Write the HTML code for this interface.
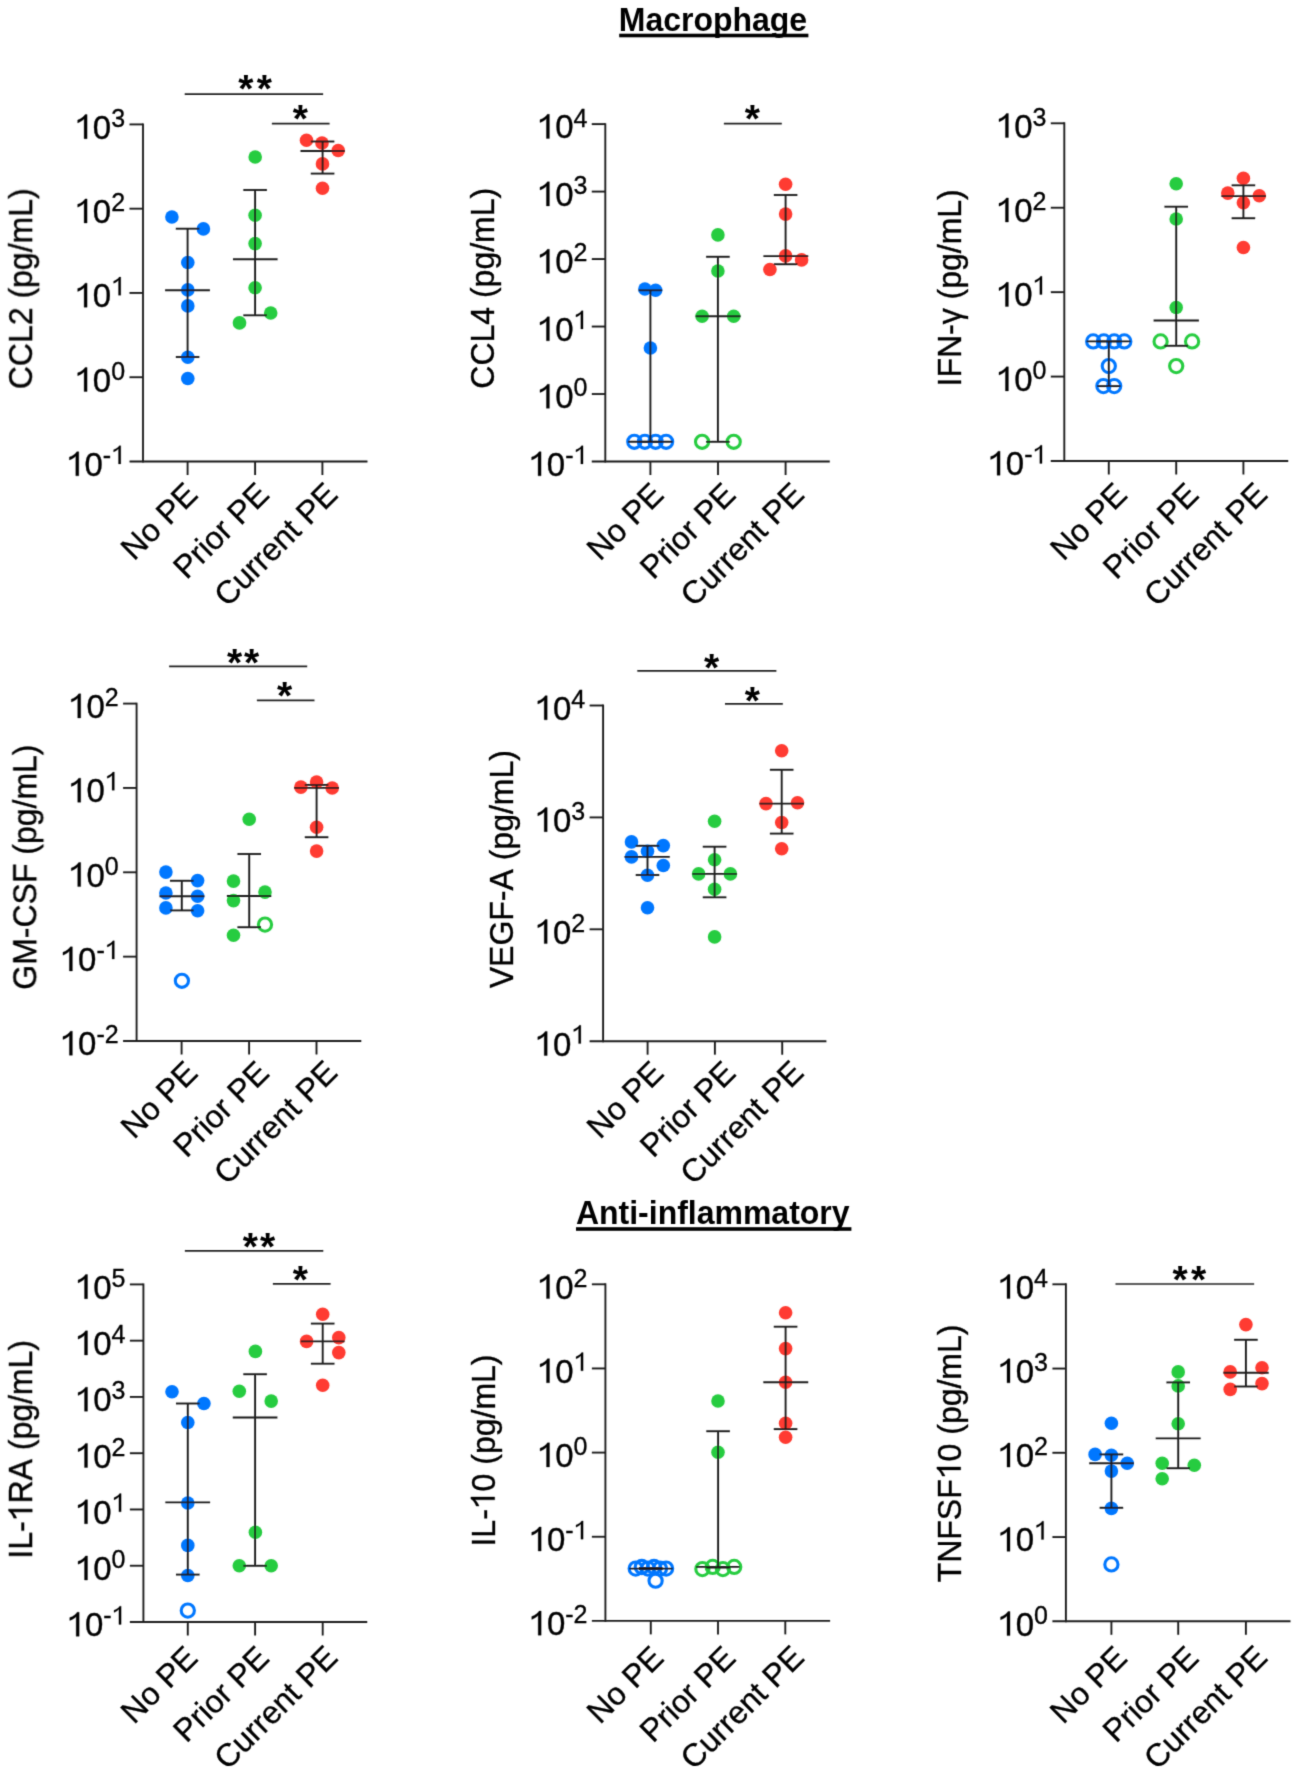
<!DOCTYPE html>
<html><head><meta charset="utf-8"><title>Figure</title>
<style>
html,body{margin:0;padding:0;background:#fff;}
svg{display:block;will-change:transform;}
svg text{font-family:"Liberation Sans",sans-serif;font-kerning:none;}
</style></head><body>
<svg width="1299" height="1772" viewBox="0 0 1299 1772">
<defs><filter id="soft" x="0" y="0" width="1299" height="1772" filterUnits="userSpaceOnUse"><feConvolveMatrix order="3" kernelMatrix="0.0192 0.1001 0.0192 0.1001 0.5228 0.1001 0.0192 0.1001 0.0192" edgeMode="duplicate"/></filter></defs>
<rect width="1299" height="1772" fill="#fff"/>
<g filter="url(#soft)">
<line x1="143" y1="123.45" x2="143" y2="462.45" stroke="#1c1c1c" stroke-width="1.9"/>
<line x1="129.5" y1="461.5" x2="367.5" y2="461.5" stroke="#1c1c1c" stroke-width="1.9"/>
<line x1="129.5" y1="124.4" x2="143" y2="124.4" stroke="#1c1c1c" stroke-width="1.9"/>
<g transform="translate(111.2,138.7) scale(1,1.02)" fill="#000" stroke="#000" stroke-width="0.35"><path stroke-width="0.01" d="M0.382,0 L0.382,0.716 L0.322,0.716 C0.29,0.65 0.2,0.59 0.097,0.555 L0.097,0.47 C0.18,0.5 0.25,0.545 0.292,0.59 L0.292,0 Z" transform="translate(-36.71,0) scale(33,-33)"/><text x="-18.35" y="0" font-size="33" font-weight="normal">0</text></g>
<g transform="translate(111.2,126.8) scale(1,1.02)" fill="#000" stroke="#000" stroke-width="0.35"><text x="0" y="0" font-size="25" font-weight="normal">3</text></g>
<line x1="129.5" y1="208.68" x2="143" y2="208.68" stroke="#1c1c1c" stroke-width="1.9"/>
<g transform="translate(111.2,222.98) scale(1,1.02)" fill="#000" stroke="#000" stroke-width="0.35"><path stroke-width="0.01" d="M0.382,0 L0.382,0.716 L0.322,0.716 C0.29,0.65 0.2,0.59 0.097,0.555 L0.097,0.47 C0.18,0.5 0.25,0.545 0.292,0.59 L0.292,0 Z" transform="translate(-36.71,0) scale(33,-33)"/><text x="-18.35" y="0" font-size="33" font-weight="normal">0</text></g>
<g transform="translate(111.2,211.08) scale(1,1.02)" fill="#000" stroke="#000" stroke-width="0.35"><text x="0" y="0" font-size="25" font-weight="normal">2</text></g>
<line x1="129.5" y1="292.95" x2="143" y2="292.95" stroke="#1c1c1c" stroke-width="1.9"/>
<g transform="translate(111.2,307.25) scale(1,1.02)" fill="#000" stroke="#000" stroke-width="0.35"><path stroke-width="0.01" d="M0.382,0 L0.382,0.716 L0.322,0.716 C0.29,0.65 0.2,0.59 0.097,0.555 L0.097,0.47 C0.18,0.5 0.25,0.545 0.292,0.59 L0.292,0 Z" transform="translate(-36.71,0) scale(33,-33)"/><text x="-18.35" y="0" font-size="33" font-weight="normal">0</text></g>
<g transform="translate(111.2,295.35) scale(1,1.02)" fill="#000" stroke="#000" stroke-width="0.35"><path stroke-width="0.01" d="M0.382,0 L0.382,0.716 L0.322,0.716 C0.29,0.65 0.2,0.59 0.097,0.555 L0.097,0.47 C0.18,0.5 0.25,0.545 0.292,0.59 L0.292,0 Z" transform="translate(0,0) scale(25,-25)"/></g>
<line x1="129.5" y1="377.23" x2="143" y2="377.23" stroke="#1c1c1c" stroke-width="1.9"/>
<g transform="translate(111.2,391.53) scale(1,1.02)" fill="#000" stroke="#000" stroke-width="0.35"><path stroke-width="0.01" d="M0.382,0 L0.382,0.716 L0.322,0.716 C0.29,0.65 0.2,0.59 0.097,0.555 L0.097,0.47 C0.18,0.5 0.25,0.545 0.292,0.59 L0.292,0 Z" transform="translate(-36.71,0) scale(33,-33)"/><text x="-18.35" y="0" font-size="33" font-weight="normal">0</text></g>
<g transform="translate(111.2,379.62) scale(1,1.02)" fill="#000" stroke="#000" stroke-width="0.35"><text x="0" y="0" font-size="25" font-weight="normal">0</text></g>
<g transform="translate(102.87,475.8) scale(1,1.02)" fill="#000" stroke="#000" stroke-width="0.35"><path stroke-width="0.01" d="M0.382,0 L0.382,0.716 L0.322,0.716 C0.29,0.65 0.2,0.59 0.097,0.555 L0.097,0.47 C0.18,0.5 0.25,0.545 0.292,0.59 L0.292,0 Z" transform="translate(-36.71,0) scale(33,-33)"/><text x="-18.35" y="0" font-size="33" font-weight="normal">0</text></g>
<g transform="translate(102.87,463.9) scale(1,1.02)" fill="#000" stroke="#000" stroke-width="0.35"><text x="0" y="0" font-size="25" font-weight="normal">-</text><path stroke-width="0.01" d="M0.382,0 L0.382,0.716 L0.322,0.716 C0.29,0.65 0.2,0.59 0.097,0.555 L0.097,0.47 C0.18,0.5 0.25,0.545 0.292,0.59 L0.292,0 Z" transform="translate(8.33,0) scale(25,-25)"/></g>
<line x1="187.6" y1="461.5" x2="187.6" y2="475" stroke="#1c1c1c" stroke-width="1.9"/>
<line x1="255.1" y1="461.5" x2="255.1" y2="475" stroke="#1c1c1c" stroke-width="1.9"/>
<line x1="322.4" y1="461.5" x2="322.4" y2="475" stroke="#1c1c1c" stroke-width="1.9"/>
<g transform="translate(32.3,288.7) rotate(-90) scale(1,1.04)" fill="#000" stroke="#000" stroke-width="0.35"><text x="-100.48" y="0" font-size="32" font-weight="normal">CCL2 (pg/mL)</text></g>
<g transform="translate(199.45,496.05) rotate(-45)" fill="#000" stroke="#000" stroke-width="0.35"><text x="-92.48" y="0" font-size="32" font-weight="normal">No PE</text></g>
<g transform="translate(270.75,496.05) rotate(-45)" fill="#000" stroke="#000" stroke-width="0.35"><text x="-119.14" y="0" font-size="32" font-weight="normal">Prior PE</text></g>
<g transform="translate(339.35,496.05) rotate(-45)" fill="#000" stroke="#000" stroke-width="0.35"><text x="-158.28" y="0" font-size="32" font-weight="normal">Current PE</text></g>
<circle cx="171.9" cy="217" r="6.8" fill="#0077FF"/>
<circle cx="203.4" cy="228.9" r="6.8" fill="#0077FF"/>
<circle cx="187.8" cy="262.5" r="6.8" fill="#0077FF"/>
<circle cx="187.8" cy="289.9" r="6.8" fill="#0077FF"/>
<circle cx="187.8" cy="305.9" r="6.8" fill="#0077FF"/>
<circle cx="187.8" cy="357.2" r="6.8" fill="#0077FF"/>
<circle cx="187.8" cy="378.5" r="6.8" fill="#0077FF"/>
<circle cx="255.2" cy="157" r="6.8" fill="#28CC41"/>
<circle cx="255.1" cy="215.2" r="6.8" fill="#28CC41"/>
<circle cx="255.1" cy="243.6" r="6.8" fill="#28CC41"/>
<circle cx="255.1" cy="287.8" r="6.8" fill="#28CC41"/>
<circle cx="270.7" cy="313" r="6.8" fill="#28CC41"/>
<circle cx="239.5" cy="322.9" r="6.8" fill="#28CC41"/>
<circle cx="306.5" cy="140.2" r="6.8" fill="#FF3B30"/>
<circle cx="322" cy="143" r="6.8" fill="#FF3B30"/>
<circle cx="338.2" cy="150.5" r="6.8" fill="#FF3B30"/>
<circle cx="322.5" cy="163.9" r="6.8" fill="#FF3B30"/>
<circle cx="322.5" cy="188.3" r="6.8" fill="#FF3B30"/>
<line x1="187.6" y1="228.7" x2="187.6" y2="357" stroke="#1c1c1c" stroke-width="1.9"/>
<line x1="175.8" y1="228.7" x2="199.4" y2="228.7" stroke="#1c1c1c" stroke-width="1.9"/>
<line x1="175.8" y1="357" x2="199.4" y2="357" stroke="#1c1c1c" stroke-width="1.9"/>
<line x1="255.1" y1="190" x2="255.1" y2="315.3" stroke="#1c1c1c" stroke-width="1.9"/>
<line x1="243.3" y1="190" x2="266.9" y2="190" stroke="#1c1c1c" stroke-width="1.9"/>
<line x1="243.3" y1="315.3" x2="266.9" y2="315.3" stroke="#1c1c1c" stroke-width="1.9"/>
<line x1="322.6" y1="141.5" x2="322.6" y2="173.6" stroke="#1c1c1c" stroke-width="1.9"/>
<line x1="310.8" y1="141.5" x2="334.4" y2="141.5" stroke="#1c1c1c" stroke-width="1.9"/>
<line x1="310.8" y1="173.6" x2="334.4" y2="173.6" stroke="#1c1c1c" stroke-width="1.9"/>
<line x1="165.1" y1="290.3" x2="209.9" y2="290.3" stroke="#1c1c1c" stroke-width="1.9"/>
<line x1="233" y1="259.3" x2="277.6" y2="259.3" stroke="#1c1c1c" stroke-width="1.9"/>
<line x1="300.5" y1="151" x2="344.7" y2="151" stroke="#1c1c1c" stroke-width="1.9"/>
<line x1="184.7" y1="94.2" x2="323.1" y2="94.2" stroke="#222" stroke-width="1.7"/>
<text x="238.36" y="101.6" font-size="39" font-weight="bold">*</text>
<text x="256.66" y="101.6" font-size="39" font-weight="bold">*</text>
<line x1="271.9" y1="123.6" x2="329.6" y2="123.6" stroke="#222" stroke-width="1.7"/>
<text x="292.76" y="132.4" font-size="39" font-weight="bold">*</text>
<line x1="605.3" y1="123.15" x2="605.3" y2="462.45" stroke="#1c1c1c" stroke-width="1.9"/>
<line x1="591.8" y1="461.5" x2="829.8" y2="461.5" stroke="#1c1c1c" stroke-width="1.9"/>
<line x1="591.8" y1="124.1" x2="605.3" y2="124.1" stroke="#1c1c1c" stroke-width="1.9"/>
<g transform="translate(573.5,138.4) scale(1,1.02)" fill="#000" stroke="#000" stroke-width="0.35"><path stroke-width="0.01" d="M0.382,0 L0.382,0.716 L0.322,0.716 C0.29,0.65 0.2,0.59 0.097,0.555 L0.097,0.47 C0.18,0.5 0.25,0.545 0.292,0.59 L0.292,0 Z" transform="translate(-36.71,0) scale(33,-33)"/><text x="-18.35" y="0" font-size="33" font-weight="normal">0</text></g>
<g transform="translate(573.5,126.5) scale(1,1.02)" fill="#000" stroke="#000" stroke-width="0.35"><text x="0" y="0" font-size="25" font-weight="normal">4</text></g>
<line x1="591.8" y1="191.58" x2="605.3" y2="191.58" stroke="#1c1c1c" stroke-width="1.9"/>
<g transform="translate(573.5,205.88) scale(1,1.02)" fill="#000" stroke="#000" stroke-width="0.35"><path stroke-width="0.01" d="M0.382,0 L0.382,0.716 L0.322,0.716 C0.29,0.65 0.2,0.59 0.097,0.555 L0.097,0.47 C0.18,0.5 0.25,0.545 0.292,0.59 L0.292,0 Z" transform="translate(-36.71,0) scale(33,-33)"/><text x="-18.35" y="0" font-size="33" font-weight="normal">0</text></g>
<g transform="translate(573.5,193.98) scale(1,1.02)" fill="#000" stroke="#000" stroke-width="0.35"><text x="0" y="0" font-size="25" font-weight="normal">3</text></g>
<line x1="591.8" y1="259.06" x2="605.3" y2="259.06" stroke="#1c1c1c" stroke-width="1.9"/>
<g transform="translate(573.5,273.36) scale(1,1.02)" fill="#000" stroke="#000" stroke-width="0.35"><path stroke-width="0.01" d="M0.382,0 L0.382,0.716 L0.322,0.716 C0.29,0.65 0.2,0.59 0.097,0.555 L0.097,0.47 C0.18,0.5 0.25,0.545 0.292,0.59 L0.292,0 Z" transform="translate(-36.71,0) scale(33,-33)"/><text x="-18.35" y="0" font-size="33" font-weight="normal">0</text></g>
<g transform="translate(573.5,261.46) scale(1,1.02)" fill="#000" stroke="#000" stroke-width="0.35"><text x="0" y="0" font-size="25" font-weight="normal">2</text></g>
<line x1="591.8" y1="326.54" x2="605.3" y2="326.54" stroke="#1c1c1c" stroke-width="1.9"/>
<g transform="translate(573.5,340.84) scale(1,1.02)" fill="#000" stroke="#000" stroke-width="0.35"><path stroke-width="0.01" d="M0.382,0 L0.382,0.716 L0.322,0.716 C0.29,0.65 0.2,0.59 0.097,0.555 L0.097,0.47 C0.18,0.5 0.25,0.545 0.292,0.59 L0.292,0 Z" transform="translate(-36.71,0) scale(33,-33)"/><text x="-18.35" y="0" font-size="33" font-weight="normal">0</text></g>
<g transform="translate(573.5,328.94) scale(1,1.02)" fill="#000" stroke="#000" stroke-width="0.35"><path stroke-width="0.01" d="M0.382,0 L0.382,0.716 L0.322,0.716 C0.29,0.65 0.2,0.59 0.097,0.555 L0.097,0.47 C0.18,0.5 0.25,0.545 0.292,0.59 L0.292,0 Z" transform="translate(0,0) scale(25,-25)"/></g>
<line x1="591.8" y1="394.02" x2="605.3" y2="394.02" stroke="#1c1c1c" stroke-width="1.9"/>
<g transform="translate(573.5,408.32) scale(1,1.02)" fill="#000" stroke="#000" stroke-width="0.35"><path stroke-width="0.01" d="M0.382,0 L0.382,0.716 L0.322,0.716 C0.29,0.65 0.2,0.59 0.097,0.555 L0.097,0.47 C0.18,0.5 0.25,0.545 0.292,0.59 L0.292,0 Z" transform="translate(-36.71,0) scale(33,-33)"/><text x="-18.35" y="0" font-size="33" font-weight="normal">0</text></g>
<g transform="translate(573.5,396.42) scale(1,1.02)" fill="#000" stroke="#000" stroke-width="0.35"><text x="0" y="0" font-size="25" font-weight="normal">0</text></g>
<g transform="translate(565.17,475.8) scale(1,1.02)" fill="#000" stroke="#000" stroke-width="0.35"><path stroke-width="0.01" d="M0.382,0 L0.382,0.716 L0.322,0.716 C0.29,0.65 0.2,0.59 0.097,0.555 L0.097,0.47 C0.18,0.5 0.25,0.545 0.292,0.59 L0.292,0 Z" transform="translate(-36.71,0) scale(33,-33)"/><text x="-18.35" y="0" font-size="33" font-weight="normal">0</text></g>
<g transform="translate(565.17,463.9) scale(1,1.02)" fill="#000" stroke="#000" stroke-width="0.35"><text x="0" y="0" font-size="25" font-weight="normal">-</text><path stroke-width="0.01" d="M0.382,0 L0.382,0.716 L0.322,0.716 C0.29,0.65 0.2,0.59 0.097,0.555 L0.097,0.47 C0.18,0.5 0.25,0.545 0.292,0.59 L0.292,0 Z" transform="translate(8.33,0) scale(25,-25)"/></g>
<line x1="650.4" y1="461.5" x2="650.4" y2="475" stroke="#1c1c1c" stroke-width="1.9"/>
<line x1="718" y1="461.5" x2="718" y2="475" stroke="#1c1c1c" stroke-width="1.9"/>
<line x1="785.6" y1="461.5" x2="785.6" y2="475" stroke="#1c1c1c" stroke-width="1.9"/>
<g transform="translate(494.3,288.2) rotate(-90) scale(1,1.04)" fill="#000" stroke="#000" stroke-width="0.35"><text x="-100.48" y="0" font-size="32" font-weight="normal">CCL4 (pg/mL)</text></g>
<g transform="translate(665.45,496.35) rotate(-45)" fill="#000" stroke="#000" stroke-width="0.35"><text x="-92.48" y="0" font-size="32" font-weight="normal">No PE</text></g>
<g transform="translate(737.45,496.35) rotate(-45)" fill="#000" stroke="#000" stroke-width="0.35"><text x="-119.14" y="0" font-size="32" font-weight="normal">Prior PE</text></g>
<g transform="translate(805.75,496.15) rotate(-45)" fill="#000" stroke="#000" stroke-width="0.35"><text x="-158.28" y="0" font-size="32" font-weight="normal">Current PE</text></g>
<circle cx="644.9" cy="289" r="6.8" fill="#0077FF"/>
<circle cx="655.6" cy="290.3" r="6.8" fill="#0077FF"/>
<circle cx="650.4" cy="348" r="6.8" fill="#0077FF"/>
<circle cx="634.3" cy="441.8" r="6.6" fill="none" stroke="#0077FF" stroke-width="3.1"/>
<circle cx="644.9" cy="441.8" r="6.6" fill="none" stroke="#0077FF" stroke-width="3.1"/>
<circle cx="655.6" cy="441.8" r="6.6" fill="none" stroke="#0077FF" stroke-width="3.1"/>
<circle cx="666.1" cy="441.8" r="6.6" fill="none" stroke="#0077FF" stroke-width="3.1"/>
<circle cx="717.9" cy="234.9" r="6.8" fill="#28CC41"/>
<circle cx="717.9" cy="271" r="6.8" fill="#28CC41"/>
<circle cx="702.1" cy="316.2" r="6.8" fill="#28CC41"/>
<circle cx="733.7" cy="316.2" r="6.8" fill="#28CC41"/>
<circle cx="702.1" cy="441.8" r="6.6" fill="none" stroke="#28CC41" stroke-width="3.1"/>
<circle cx="733.7" cy="441.8" r="6.6" fill="none" stroke="#28CC41" stroke-width="3.1"/>
<circle cx="785.6" cy="184.3" r="6.8" fill="#FF3B30"/>
<circle cx="785.6" cy="214.1" r="6.8" fill="#FF3B30"/>
<circle cx="785.6" cy="255.9" r="6.8" fill="#FF3B30"/>
<circle cx="801.6" cy="259.9" r="6.8" fill="#FF3B30"/>
<circle cx="769.9" cy="269.5" r="6.8" fill="#FF3B30"/>
<line x1="650.4" y1="290.3" x2="650.4" y2="441.8" stroke="#1c1c1c" stroke-width="1.9"/>
<line x1="638.6" y1="290.3" x2="662.2" y2="290.3" stroke="#1c1c1c" stroke-width="1.9"/>
<line x1="638.6" y1="441.8" x2="662.2" y2="441.8" stroke="#1c1c1c" stroke-width="1.9"/>
<line x1="717.9" y1="256.8" x2="717.9" y2="441.8" stroke="#1c1c1c" stroke-width="1.9"/>
<line x1="706.1" y1="256.8" x2="729.7" y2="256.8" stroke="#1c1c1c" stroke-width="1.9"/>
<line x1="706.1" y1="441.8" x2="729.7" y2="441.8" stroke="#1c1c1c" stroke-width="1.9"/>
<line x1="785.6" y1="195" x2="785.6" y2="264.2" stroke="#1c1c1c" stroke-width="1.9"/>
<line x1="773.8" y1="195" x2="797.4" y2="195" stroke="#1c1c1c" stroke-width="1.9"/>
<line x1="773.8" y1="264.2" x2="797.4" y2="264.2" stroke="#1c1c1c" stroke-width="1.9"/>
<line x1="627.9" y1="441.8" x2="672.6" y2="441.8" stroke="#1c1c1c" stroke-width="1.9"/>
<line x1="695.7" y1="316.2" x2="740.6" y2="316.2" stroke="#1c1c1c" stroke-width="1.9"/>
<line x1="763.4" y1="256.1" x2="808.3" y2="256.1" stroke="#1c1c1c" stroke-width="1.9"/>
<line x1="723.9" y1="123.7" x2="781.8" y2="123.7" stroke="#222" stroke-width="1.7"/>
<text x="744.86" y="132.1" font-size="39" font-weight="bold">*</text>
<line x1="1064.3" y1="122.35" x2="1064.3" y2="461.95" stroke="#1c1c1c" stroke-width="1.9"/>
<line x1="1050.8" y1="461" x2="1288.2" y2="461" stroke="#1c1c1c" stroke-width="1.9"/>
<line x1="1050.8" y1="123.3" x2="1064.3" y2="123.3" stroke="#1c1c1c" stroke-width="1.9"/>
<g transform="translate(1032.5,137.6) scale(1,1.02)" fill="#000" stroke="#000" stroke-width="0.35"><path stroke-width="0.01" d="M0.382,0 L0.382,0.716 L0.322,0.716 C0.29,0.65 0.2,0.59 0.097,0.555 L0.097,0.47 C0.18,0.5 0.25,0.545 0.292,0.59 L0.292,0 Z" transform="translate(-36.71,0) scale(33,-33)"/><text x="-18.35" y="0" font-size="33" font-weight="normal">0</text></g>
<g transform="translate(1032.5,125.7) scale(1,1.02)" fill="#000" stroke="#000" stroke-width="0.35"><text x="0" y="0" font-size="25" font-weight="normal">3</text></g>
<line x1="1050.8" y1="207.72" x2="1064.3" y2="207.72" stroke="#1c1c1c" stroke-width="1.9"/>
<g transform="translate(1032.5,222.03) scale(1,1.02)" fill="#000" stroke="#000" stroke-width="0.35"><path stroke-width="0.01" d="M0.382,0 L0.382,0.716 L0.322,0.716 C0.29,0.65 0.2,0.59 0.097,0.555 L0.097,0.47 C0.18,0.5 0.25,0.545 0.292,0.59 L0.292,0 Z" transform="translate(-36.71,0) scale(33,-33)"/><text x="-18.35" y="0" font-size="33" font-weight="normal">0</text></g>
<g transform="translate(1032.5,210.12) scale(1,1.02)" fill="#000" stroke="#000" stroke-width="0.35"><text x="0" y="0" font-size="25" font-weight="normal">2</text></g>
<line x1="1050.8" y1="292.15" x2="1064.3" y2="292.15" stroke="#1c1c1c" stroke-width="1.9"/>
<g transform="translate(1032.5,306.45) scale(1,1.02)" fill="#000" stroke="#000" stroke-width="0.35"><path stroke-width="0.01" d="M0.382,0 L0.382,0.716 L0.322,0.716 C0.29,0.65 0.2,0.59 0.097,0.555 L0.097,0.47 C0.18,0.5 0.25,0.545 0.292,0.59 L0.292,0 Z" transform="translate(-36.71,0) scale(33,-33)"/><text x="-18.35" y="0" font-size="33" font-weight="normal">0</text></g>
<g transform="translate(1032.5,294.55) scale(1,1.02)" fill="#000" stroke="#000" stroke-width="0.35"><path stroke-width="0.01" d="M0.382,0 L0.382,0.716 L0.322,0.716 C0.29,0.65 0.2,0.59 0.097,0.555 L0.097,0.47 C0.18,0.5 0.25,0.545 0.292,0.59 L0.292,0 Z" transform="translate(0,0) scale(25,-25)"/></g>
<line x1="1050.8" y1="376.57" x2="1064.3" y2="376.57" stroke="#1c1c1c" stroke-width="1.9"/>
<g transform="translate(1032.5,390.88) scale(1,1.02)" fill="#000" stroke="#000" stroke-width="0.35"><path stroke-width="0.01" d="M0.382,0 L0.382,0.716 L0.322,0.716 C0.29,0.65 0.2,0.59 0.097,0.555 L0.097,0.47 C0.18,0.5 0.25,0.545 0.292,0.59 L0.292,0 Z" transform="translate(-36.71,0) scale(33,-33)"/><text x="-18.35" y="0" font-size="33" font-weight="normal">0</text></g>
<g transform="translate(1032.5,378.97) scale(1,1.02)" fill="#000" stroke="#000" stroke-width="0.35"><text x="0" y="0" font-size="25" font-weight="normal">0</text></g>
<g transform="translate(1024.17,475.3) scale(1,1.02)" fill="#000" stroke="#000" stroke-width="0.35"><path stroke-width="0.01" d="M0.382,0 L0.382,0.716 L0.322,0.716 C0.29,0.65 0.2,0.59 0.097,0.555 L0.097,0.47 C0.18,0.5 0.25,0.545 0.292,0.59 L0.292,0 Z" transform="translate(-36.71,0) scale(33,-33)"/><text x="-18.35" y="0" font-size="33" font-weight="normal">0</text></g>
<g transform="translate(1024.17,463.4) scale(1,1.02)" fill="#000" stroke="#000" stroke-width="0.35"><text x="0" y="0" font-size="25" font-weight="normal">-</text><path stroke-width="0.01" d="M0.382,0 L0.382,0.716 L0.322,0.716 C0.29,0.65 0.2,0.59 0.097,0.555 L0.097,0.47 C0.18,0.5 0.25,0.545 0.292,0.59 L0.292,0 Z" transform="translate(8.33,0) scale(25,-25)"/></g>
<line x1="1108.8" y1="461" x2="1108.8" y2="474.5" stroke="#1c1c1c" stroke-width="1.9"/>
<line x1="1176.2" y1="461" x2="1176.2" y2="474.5" stroke="#1c1c1c" stroke-width="1.9"/>
<line x1="1243.4" y1="461" x2="1243.4" y2="474.5" stroke="#1c1c1c" stroke-width="1.9"/>
<g transform="translate(960.6,287.8) rotate(-90) scale(1,1.04)" fill="#000" stroke="#000" stroke-width="0.35"><text x="-98.67" y="0" font-size="32" font-weight="normal">IFN-γ (pg/mL)</text></g>
<g transform="translate(1128.85,496.35) rotate(-45)" fill="#000" stroke="#000" stroke-width="0.35"><text x="-92.48" y="0" font-size="32" font-weight="normal">No PE</text></g>
<g transform="translate(1200.45,496.35) rotate(-45)" fill="#000" stroke="#000" stroke-width="0.35"><text x="-119.14" y="0" font-size="32" font-weight="normal">Prior PE</text></g>
<g transform="translate(1269.05,496.15) rotate(-45)" fill="#000" stroke="#000" stroke-width="0.35"><text x="-158.28" y="0" font-size="32" font-weight="normal">Current PE</text></g>
<circle cx="1093.2" cy="341.4" r="6.6" fill="none" stroke="#0077FF" stroke-width="3.1"/>
<circle cx="1103.8" cy="341.4" r="6.6" fill="none" stroke="#0077FF" stroke-width="3.1"/>
<circle cx="1114.2" cy="341.4" r="6.6" fill="none" stroke="#0077FF" stroke-width="3.1"/>
<circle cx="1124.3" cy="341.4" r="6.6" fill="none" stroke="#0077FF" stroke-width="3.1"/>
<circle cx="1108.8" cy="366.1" r="6.6" fill="none" stroke="#0077FF" stroke-width="3.1"/>
<circle cx="1103.4" cy="386.1" r="6.6" fill="none" stroke="#0077FF" stroke-width="3.1"/>
<circle cx="1114.2" cy="386.1" r="6.6" fill="none" stroke="#0077FF" stroke-width="3.1"/>
<circle cx="1176.2" cy="183.7" r="6.8" fill="#28CC41"/>
<circle cx="1176.2" cy="219" r="6.8" fill="#28CC41"/>
<circle cx="1176.2" cy="307.5" r="6.8" fill="#28CC41"/>
<circle cx="1160.6" cy="341.4" r="6.6" fill="none" stroke="#28CC41" stroke-width="3.1"/>
<circle cx="1192.1" cy="341.4" r="6.6" fill="none" stroke="#28CC41" stroke-width="3.1"/>
<circle cx="1176.2" cy="366.1" r="6.6" fill="none" stroke="#28CC41" stroke-width="3.1"/>
<circle cx="1243.4" cy="178.2" r="6.8" fill="#FF3B30"/>
<circle cx="1227.8" cy="193.1" r="6.8" fill="#FF3B30"/>
<circle cx="1259.3" cy="195.7" r="6.8" fill="#FF3B30"/>
<circle cx="1243.4" cy="202.7" r="6.8" fill="#FF3B30"/>
<circle cx="1243.4" cy="247.5" r="6.8" fill="#FF3B30"/>
<line x1="1108.8" y1="341.4" x2="1108.8" y2="386.1" stroke="#1c1c1c" stroke-width="1.9"/>
<line x1="1097" y1="341.4" x2="1120.6" y2="341.4" stroke="#1c1c1c" stroke-width="1.9"/>
<line x1="1097" y1="386.1" x2="1120.6" y2="386.1" stroke="#1c1c1c" stroke-width="1.9"/>
<line x1="1176.2" y1="206.7" x2="1176.2" y2="345.8" stroke="#1c1c1c" stroke-width="1.9"/>
<line x1="1164.4" y1="206.7" x2="1188" y2="206.7" stroke="#1c1c1c" stroke-width="1.9"/>
<line x1="1164.4" y1="345.8" x2="1188" y2="345.8" stroke="#1c1c1c" stroke-width="1.9"/>
<line x1="1243.4" y1="185.3" x2="1243.4" y2="218.2" stroke="#1c1c1c" stroke-width="1.9"/>
<line x1="1231.6" y1="185.3" x2="1255.2" y2="185.3" stroke="#1c1c1c" stroke-width="1.9"/>
<line x1="1231.6" y1="218.2" x2="1255.2" y2="218.2" stroke="#1c1c1c" stroke-width="1.9"/>
<line x1="1086.5" y1="341.4" x2="1130.7" y2="341.4" stroke="#1c1c1c" stroke-width="1.9"/>
<line x1="1153.6" y1="320.5" x2="1198.9" y2="320.5" stroke="#1c1c1c" stroke-width="1.9"/>
<line x1="1221.4" y1="196.1" x2="1265.9" y2="196.1" stroke="#1c1c1c" stroke-width="1.9"/>
<line x1="136.6" y1="702.65" x2="136.6" y2="1041.95" stroke="#1c1c1c" stroke-width="1.9"/>
<line x1="123.1" y1="1041" x2="361.3" y2="1041" stroke="#1c1c1c" stroke-width="1.9"/>
<line x1="123.1" y1="703.6" x2="136.6" y2="703.6" stroke="#1c1c1c" stroke-width="1.9"/>
<g transform="translate(104.8,717.9) scale(1,1.02)" fill="#000" stroke="#000" stroke-width="0.35"><path stroke-width="0.01" d="M0.382,0 L0.382,0.716 L0.322,0.716 C0.29,0.65 0.2,0.59 0.097,0.555 L0.097,0.47 C0.18,0.5 0.25,0.545 0.292,0.59 L0.292,0 Z" transform="translate(-36.71,0) scale(33,-33)"/><text x="-18.35" y="0" font-size="33" font-weight="normal">0</text></g>
<g transform="translate(104.8,706) scale(1,1.02)" fill="#000" stroke="#000" stroke-width="0.35"><text x="0" y="0" font-size="25" font-weight="normal">2</text></g>
<line x1="123.1" y1="787.95" x2="136.6" y2="787.95" stroke="#1c1c1c" stroke-width="1.9"/>
<g transform="translate(104.8,802.25) scale(1,1.02)" fill="#000" stroke="#000" stroke-width="0.35"><path stroke-width="0.01" d="M0.382,0 L0.382,0.716 L0.322,0.716 C0.29,0.65 0.2,0.59 0.097,0.555 L0.097,0.47 C0.18,0.5 0.25,0.545 0.292,0.59 L0.292,0 Z" transform="translate(-36.71,0) scale(33,-33)"/><text x="-18.35" y="0" font-size="33" font-weight="normal">0</text></g>
<g transform="translate(104.8,790.35) scale(1,1.02)" fill="#000" stroke="#000" stroke-width="0.35"><path stroke-width="0.01" d="M0.382,0 L0.382,0.716 L0.322,0.716 C0.29,0.65 0.2,0.59 0.097,0.555 L0.097,0.47 C0.18,0.5 0.25,0.545 0.292,0.59 L0.292,0 Z" transform="translate(0,0) scale(25,-25)"/></g>
<line x1="123.1" y1="872.3" x2="136.6" y2="872.3" stroke="#1c1c1c" stroke-width="1.9"/>
<g transform="translate(104.8,886.6) scale(1,1.02)" fill="#000" stroke="#000" stroke-width="0.35"><path stroke-width="0.01" d="M0.382,0 L0.382,0.716 L0.322,0.716 C0.29,0.65 0.2,0.59 0.097,0.555 L0.097,0.47 C0.18,0.5 0.25,0.545 0.292,0.59 L0.292,0 Z" transform="translate(-36.71,0) scale(33,-33)"/><text x="-18.35" y="0" font-size="33" font-weight="normal">0</text></g>
<g transform="translate(104.8,874.7) scale(1,1.02)" fill="#000" stroke="#000" stroke-width="0.35"><text x="0" y="0" font-size="25" font-weight="normal">0</text></g>
<line x1="123.1" y1="956.65" x2="136.6" y2="956.65" stroke="#1c1c1c" stroke-width="1.9"/>
<g transform="translate(96.47,970.95) scale(1,1.02)" fill="#000" stroke="#000" stroke-width="0.35"><path stroke-width="0.01" d="M0.382,0 L0.382,0.716 L0.322,0.716 C0.29,0.65 0.2,0.59 0.097,0.555 L0.097,0.47 C0.18,0.5 0.25,0.545 0.292,0.59 L0.292,0 Z" transform="translate(-36.71,0) scale(33,-33)"/><text x="-18.35" y="0" font-size="33" font-weight="normal">0</text></g>
<g transform="translate(96.47,959.05) scale(1,1.02)" fill="#000" stroke="#000" stroke-width="0.35"><text x="0" y="0" font-size="25" font-weight="normal">-</text><path stroke-width="0.01" d="M0.382,0 L0.382,0.716 L0.322,0.716 C0.29,0.65 0.2,0.59 0.097,0.555 L0.097,0.47 C0.18,0.5 0.25,0.545 0.292,0.59 L0.292,0 Z" transform="translate(8.33,0) scale(25,-25)"/></g>
<g transform="translate(96.47,1055.3) scale(1,1.02)" fill="#000" stroke="#000" stroke-width="0.35"><path stroke-width="0.01" d="M0.382,0 L0.382,0.716 L0.322,0.716 C0.29,0.65 0.2,0.59 0.097,0.555 L0.097,0.47 C0.18,0.5 0.25,0.545 0.292,0.59 L0.292,0 Z" transform="translate(-36.71,0) scale(33,-33)"/><text x="-18.35" y="0" font-size="33" font-weight="normal">0</text></g>
<g transform="translate(96.47,1043.4) scale(1,1.02)" fill="#000" stroke="#000" stroke-width="0.35"><text x="0" y="0" font-size="25" font-weight="normal">-2</text></g>
<line x1="181.6" y1="1041" x2="181.6" y2="1054.5" stroke="#1c1c1c" stroke-width="1.9"/>
<line x1="249.1" y1="1041" x2="249.1" y2="1054.5" stroke="#1c1c1c" stroke-width="1.9"/>
<line x1="316.5" y1="1041" x2="316.5" y2="1054.5" stroke="#1c1c1c" stroke-width="1.9"/>
<g transform="translate(36.5,867) rotate(-90) scale(1,1.04)" fill="#000" stroke="#000" stroke-width="0.35"><text x="-122.67" y="0" font-size="32" font-weight="normal">GM-CSF (pg/mL)</text></g>
<g transform="translate(199.35,1074.55) rotate(-45)" fill="#000" stroke="#000" stroke-width="0.35"><text x="-92.48" y="0" font-size="32" font-weight="normal">No PE</text></g>
<g transform="translate(270.75,1074.55) rotate(-45)" fill="#000" stroke="#000" stroke-width="0.35"><text x="-119.14" y="0" font-size="32" font-weight="normal">Prior PE</text></g>
<g transform="translate(339.15,1074.15) rotate(-45)" fill="#000" stroke="#000" stroke-width="0.35"><text x="-158.28" y="0" font-size="32" font-weight="normal">Current PE</text></g>
<circle cx="165.9" cy="872.1" r="6.8" fill="#0077FF"/>
<circle cx="197.6" cy="880.6" r="6.8" fill="#0077FF"/>
<circle cx="165.9" cy="893" r="6.8" fill="#0077FF"/>
<circle cx="197.6" cy="896.3" r="6.8" fill="#0077FF"/>
<circle cx="165.9" cy="907.9" r="6.8" fill="#0077FF"/>
<circle cx="197.6" cy="910.7" r="6.8" fill="#0077FF"/>
<circle cx="181.9" cy="980.8" r="6.6" fill="none" stroke="#0077FF" stroke-width="3.1"/>
<circle cx="249.2" cy="819.3" r="6.8" fill="#28CC41"/>
<circle cx="233.5" cy="881.1" r="6.8" fill="#28CC41"/>
<circle cx="265" cy="892.1" r="6.8" fill="#28CC41"/>
<circle cx="233.5" cy="900.6" r="6.8" fill="#28CC41"/>
<circle cx="265" cy="924.6" r="6.6" fill="none" stroke="#28CC41" stroke-width="3.1"/>
<circle cx="233.5" cy="935.3" r="6.8" fill="#28CC41"/>
<circle cx="300.9" cy="787.1" r="6.8" fill="#FF3B30"/>
<circle cx="316.6" cy="782" r="6.8" fill="#FF3B30"/>
<circle cx="332.2" cy="788" r="6.8" fill="#FF3B30"/>
<circle cx="316.6" cy="827.2" r="6.8" fill="#FF3B30"/>
<circle cx="316.6" cy="851.1" r="6.8" fill="#FF3B30"/>
<line x1="181.8" y1="880.8" x2="181.8" y2="910.4" stroke="#1c1c1c" stroke-width="1.9"/>
<line x1="170" y1="880.8" x2="193.6" y2="880.8" stroke="#1c1c1c" stroke-width="1.9"/>
<line x1="170" y1="910.4" x2="193.6" y2="910.4" stroke="#1c1c1c" stroke-width="1.9"/>
<line x1="249.2" y1="854" x2="249.2" y2="927.2" stroke="#1c1c1c" stroke-width="1.9"/>
<line x1="237.4" y1="854" x2="261" y2="854" stroke="#1c1c1c" stroke-width="1.9"/>
<line x1="237.4" y1="927.2" x2="261" y2="927.2" stroke="#1c1c1c" stroke-width="1.9"/>
<line x1="316.6" y1="784.9" x2="316.6" y2="837.2" stroke="#1c1c1c" stroke-width="1.9"/>
<line x1="304.8" y1="784.9" x2="328.4" y2="784.9" stroke="#1c1c1c" stroke-width="1.9"/>
<line x1="304.8" y1="837.2" x2="328.4" y2="837.2" stroke="#1c1c1c" stroke-width="1.9"/>
<line x1="159.5" y1="896.3" x2="204.4" y2="896.3" stroke="#1c1c1c" stroke-width="1.9"/>
<line x1="226.9" y1="896" x2="271.3" y2="896" stroke="#1c1c1c" stroke-width="1.9"/>
<line x1="294.1" y1="787.9" x2="339" y2="787.9" stroke="#1c1c1c" stroke-width="1.9"/>
<line x1="169.1" y1="666.3" x2="307.2" y2="666.3" stroke="#222" stroke-width="1.7"/>
<text x="227.06" y="676.2" font-size="39" font-weight="bold">*</text>
<text x="244.11" y="676.2" font-size="39" font-weight="bold">*</text>
<line x1="256.9" y1="700.3" x2="314.5" y2="700.3" stroke="#222" stroke-width="1.7"/>
<text x="276.91" y="709.3" font-size="39" font-weight="bold">*</text>
<line x1="603.1" y1="704.55" x2="603.1" y2="1042.15" stroke="#1c1c1c" stroke-width="1.9"/>
<line x1="589.6" y1="1041.2" x2="826.4" y2="1041.2" stroke="#1c1c1c" stroke-width="1.9"/>
<line x1="589.6" y1="705.5" x2="603.1" y2="705.5" stroke="#1c1c1c" stroke-width="1.9"/>
<g transform="translate(571.3,719.8) scale(1,1.02)" fill="#000" stroke="#000" stroke-width="0.35"><path stroke-width="0.01" d="M0.382,0 L0.382,0.716 L0.322,0.716 C0.29,0.65 0.2,0.59 0.097,0.555 L0.097,0.47 C0.18,0.5 0.25,0.545 0.292,0.59 L0.292,0 Z" transform="translate(-36.71,0) scale(33,-33)"/><text x="-18.35" y="0" font-size="33" font-weight="normal">0</text></g>
<g transform="translate(571.3,707.9) scale(1,1.02)" fill="#000" stroke="#000" stroke-width="0.35"><text x="0" y="0" font-size="25" font-weight="normal">4</text></g>
<line x1="589.6" y1="817.4" x2="603.1" y2="817.4" stroke="#1c1c1c" stroke-width="1.9"/>
<g transform="translate(571.3,831.7) scale(1,1.02)" fill="#000" stroke="#000" stroke-width="0.35"><path stroke-width="0.01" d="M0.382,0 L0.382,0.716 L0.322,0.716 C0.29,0.65 0.2,0.59 0.097,0.555 L0.097,0.47 C0.18,0.5 0.25,0.545 0.292,0.59 L0.292,0 Z" transform="translate(-36.71,0) scale(33,-33)"/><text x="-18.35" y="0" font-size="33" font-weight="normal">0</text></g>
<g transform="translate(571.3,819.8) scale(1,1.02)" fill="#000" stroke="#000" stroke-width="0.35"><text x="0" y="0" font-size="25" font-weight="normal">3</text></g>
<line x1="589.6" y1="929.3" x2="603.1" y2="929.3" stroke="#1c1c1c" stroke-width="1.9"/>
<g transform="translate(571.3,943.6) scale(1,1.02)" fill="#000" stroke="#000" stroke-width="0.35"><path stroke-width="0.01" d="M0.382,0 L0.382,0.716 L0.322,0.716 C0.29,0.65 0.2,0.59 0.097,0.555 L0.097,0.47 C0.18,0.5 0.25,0.545 0.292,0.59 L0.292,0 Z" transform="translate(-36.71,0) scale(33,-33)"/><text x="-18.35" y="0" font-size="33" font-weight="normal">0</text></g>
<g transform="translate(571.3,931.7) scale(1,1.02)" fill="#000" stroke="#000" stroke-width="0.35"><text x="0" y="0" font-size="25" font-weight="normal">2</text></g>
<g transform="translate(571.3,1055.5) scale(1,1.02)" fill="#000" stroke="#000" stroke-width="0.35"><path stroke-width="0.01" d="M0.382,0 L0.382,0.716 L0.322,0.716 C0.29,0.65 0.2,0.59 0.097,0.555 L0.097,0.47 C0.18,0.5 0.25,0.545 0.292,0.59 L0.292,0 Z" transform="translate(-36.71,0) scale(33,-33)"/><text x="-18.35" y="0" font-size="33" font-weight="normal">0</text></g>
<g transform="translate(571.3,1043.6) scale(1,1.02)" fill="#000" stroke="#000" stroke-width="0.35"><path stroke-width="0.01" d="M0.382,0 L0.382,0.716 L0.322,0.716 C0.29,0.65 0.2,0.59 0.097,0.555 L0.097,0.47 C0.18,0.5 0.25,0.545 0.292,0.59 L0.292,0 Z" transform="translate(0,0) scale(25,-25)"/></g>
<line x1="647.6" y1="1041.2" x2="647.6" y2="1054.7" stroke="#1c1c1c" stroke-width="1.9"/>
<line x1="714.9" y1="1041.2" x2="714.9" y2="1054.7" stroke="#1c1c1c" stroke-width="1.9"/>
<line x1="782.2" y1="1041.2" x2="782.2" y2="1054.7" stroke="#1c1c1c" stroke-width="1.9"/>
<g transform="translate(513.4,870) rotate(-90) scale(1,1.04)" fill="#000" stroke="#000" stroke-width="0.35"><text x="-118.25" y="0" font-size="32" font-weight="normal">VEGF-A (pg/mL)</text></g>
<g transform="translate(665.45,1074.55) rotate(-45)" fill="#000" stroke="#000" stroke-width="0.35"><text x="-92.48" y="0" font-size="32" font-weight="normal">No PE</text></g>
<g transform="translate(737.45,1074.55) rotate(-45)" fill="#000" stroke="#000" stroke-width="0.35"><text x="-119.14" y="0" font-size="32" font-weight="normal">Prior PE</text></g>
<g transform="translate(805.35,1074.15) rotate(-45)" fill="#000" stroke="#000" stroke-width="0.35"><text x="-158.28" y="0" font-size="32" font-weight="normal">Current PE</text></g>
<circle cx="631.5" cy="841.9" r="6.8" fill="#0077FF"/>
<circle cx="663.3" cy="845.6" r="6.8" fill="#0077FF"/>
<circle cx="647.5" cy="851.2" r="6.8" fill="#0077FF"/>
<circle cx="631.5" cy="856.9" r="6.8" fill="#0077FF"/>
<circle cx="663.3" cy="865.5" r="6.8" fill="#0077FF"/>
<circle cx="647.5" cy="875.2" r="6.8" fill="#0077FF"/>
<circle cx="647.5" cy="907.8" r="6.8" fill="#0077FF"/>
<circle cx="714.6" cy="821.3" r="6.8" fill="#28CC41"/>
<circle cx="714.6" cy="859.8" r="6.8" fill="#28CC41"/>
<circle cx="698.6" cy="873.9" r="6.8" fill="#28CC41"/>
<circle cx="730.4" cy="873.9" r="6.8" fill="#28CC41"/>
<circle cx="714.6" cy="889.2" r="6.8" fill="#28CC41"/>
<circle cx="714.6" cy="936.9" r="6.8" fill="#28CC41"/>
<circle cx="781.7" cy="750.7" r="6.8" fill="#FF3B30"/>
<circle cx="766" cy="803.6" r="6.8" fill="#FF3B30"/>
<circle cx="797.5" cy="802.7" r="6.8" fill="#FF3B30"/>
<circle cx="781.7" cy="822.5" r="6.8" fill="#FF3B30"/>
<circle cx="781.7" cy="848.8" r="6.8" fill="#FF3B30"/>
<line x1="647.5" y1="845.8" x2="647.5" y2="875" stroke="#1c1c1c" stroke-width="1.9"/>
<line x1="635.7" y1="845.8" x2="659.3" y2="845.8" stroke="#1c1c1c" stroke-width="1.9"/>
<line x1="635.7" y1="875" x2="659.3" y2="875" stroke="#1c1c1c" stroke-width="1.9"/>
<line x1="714.6" y1="846.7" x2="714.6" y2="897.3" stroke="#1c1c1c" stroke-width="1.9"/>
<line x1="702.8" y1="846.7" x2="726.4" y2="846.7" stroke="#1c1c1c" stroke-width="1.9"/>
<line x1="702.8" y1="897.3" x2="726.4" y2="897.3" stroke="#1c1c1c" stroke-width="1.9"/>
<line x1="781.7" y1="769.8" x2="781.7" y2="833.6" stroke="#1c1c1c" stroke-width="1.9"/>
<line x1="769.9" y1="769.8" x2="793.5" y2="769.8" stroke="#1c1c1c" stroke-width="1.9"/>
<line x1="769.9" y1="833.6" x2="793.5" y2="833.6" stroke="#1c1c1c" stroke-width="1.9"/>
<line x1="624.5" y1="856.9" x2="669.8" y2="856.9" stroke="#1c1c1c" stroke-width="1.9"/>
<line x1="692.4" y1="873.9" x2="736.9" y2="873.9" stroke="#1c1c1c" stroke-width="1.9"/>
<line x1="759.5" y1="803.6" x2="804" y2="803.6" stroke="#1c1c1c" stroke-width="1.9"/>
<line x1="637.3" y1="670.9" x2="776.4" y2="670.9" stroke="#222" stroke-width="1.7"/>
<text x="704.01" y="681" font-size="39" font-weight="bold">*</text>
<line x1="725" y1="703.8" x2="782.8" y2="703.8" stroke="#222" stroke-width="1.7"/>
<text x="744.86" y="713.9" font-size="39" font-weight="bold">*</text>
<line x1="143.4" y1="1283.45" x2="143.4" y2="1622.95" stroke="#1c1c1c" stroke-width="1.9"/>
<line x1="129.9" y1="1622" x2="367.2" y2="1622" stroke="#1c1c1c" stroke-width="1.9"/>
<line x1="129.9" y1="1284.4" x2="143.4" y2="1284.4" stroke="#1c1c1c" stroke-width="1.9"/>
<g transform="translate(111.6,1298.7) scale(1,1.02)" fill="#000" stroke="#000" stroke-width="0.35"><path stroke-width="0.01" d="M0.382,0 L0.382,0.716 L0.322,0.716 C0.29,0.65 0.2,0.59 0.097,0.555 L0.097,0.47 C0.18,0.5 0.25,0.545 0.292,0.59 L0.292,0 Z" transform="translate(-36.71,0) scale(33,-33)"/><text x="-18.35" y="0" font-size="33" font-weight="normal">0</text></g>
<g transform="translate(111.6,1286.8) scale(1,1.02)" fill="#000" stroke="#000" stroke-width="0.35"><text x="0" y="0" font-size="25" font-weight="normal">5</text></g>
<line x1="129.9" y1="1340.67" x2="143.4" y2="1340.67" stroke="#1c1c1c" stroke-width="1.9"/>
<g transform="translate(111.6,1354.97) scale(1,1.02)" fill="#000" stroke="#000" stroke-width="0.35"><path stroke-width="0.01" d="M0.382,0 L0.382,0.716 L0.322,0.716 C0.29,0.65 0.2,0.59 0.097,0.555 L0.097,0.47 C0.18,0.5 0.25,0.545 0.292,0.59 L0.292,0 Z" transform="translate(-36.71,0) scale(33,-33)"/><text x="-18.35" y="0" font-size="33" font-weight="normal">0</text></g>
<g transform="translate(111.6,1343.07) scale(1,1.02)" fill="#000" stroke="#000" stroke-width="0.35"><text x="0" y="0" font-size="25" font-weight="normal">4</text></g>
<line x1="129.9" y1="1396.93" x2="143.4" y2="1396.93" stroke="#1c1c1c" stroke-width="1.9"/>
<g transform="translate(111.6,1411.23) scale(1,1.02)" fill="#000" stroke="#000" stroke-width="0.35"><path stroke-width="0.01" d="M0.382,0 L0.382,0.716 L0.322,0.716 C0.29,0.65 0.2,0.59 0.097,0.555 L0.097,0.47 C0.18,0.5 0.25,0.545 0.292,0.59 L0.292,0 Z" transform="translate(-36.71,0) scale(33,-33)"/><text x="-18.35" y="0" font-size="33" font-weight="normal">0</text></g>
<g transform="translate(111.6,1399.33) scale(1,1.02)" fill="#000" stroke="#000" stroke-width="0.35"><text x="0" y="0" font-size="25" font-weight="normal">3</text></g>
<line x1="129.9" y1="1453.2" x2="143.4" y2="1453.2" stroke="#1c1c1c" stroke-width="1.9"/>
<g transform="translate(111.6,1467.5) scale(1,1.02)" fill="#000" stroke="#000" stroke-width="0.35"><path stroke-width="0.01" d="M0.382,0 L0.382,0.716 L0.322,0.716 C0.29,0.65 0.2,0.59 0.097,0.555 L0.097,0.47 C0.18,0.5 0.25,0.545 0.292,0.59 L0.292,0 Z" transform="translate(-36.71,0) scale(33,-33)"/><text x="-18.35" y="0" font-size="33" font-weight="normal">0</text></g>
<g transform="translate(111.6,1455.6) scale(1,1.02)" fill="#000" stroke="#000" stroke-width="0.35"><text x="0" y="0" font-size="25" font-weight="normal">2</text></g>
<line x1="129.9" y1="1509.47" x2="143.4" y2="1509.47" stroke="#1c1c1c" stroke-width="1.9"/>
<g transform="translate(111.6,1523.77) scale(1,1.02)" fill="#000" stroke="#000" stroke-width="0.35"><path stroke-width="0.01" d="M0.382,0 L0.382,0.716 L0.322,0.716 C0.29,0.65 0.2,0.59 0.097,0.555 L0.097,0.47 C0.18,0.5 0.25,0.545 0.292,0.59 L0.292,0 Z" transform="translate(-36.71,0) scale(33,-33)"/><text x="-18.35" y="0" font-size="33" font-weight="normal">0</text></g>
<g transform="translate(111.6,1511.87) scale(1,1.02)" fill="#000" stroke="#000" stroke-width="0.35"><path stroke-width="0.01" d="M0.382,0 L0.382,0.716 L0.322,0.716 C0.29,0.65 0.2,0.59 0.097,0.555 L0.097,0.47 C0.18,0.5 0.25,0.545 0.292,0.59 L0.292,0 Z" transform="translate(0,0) scale(25,-25)"/></g>
<line x1="129.9" y1="1565.73" x2="143.4" y2="1565.73" stroke="#1c1c1c" stroke-width="1.9"/>
<g transform="translate(111.6,1580.03) scale(1,1.02)" fill="#000" stroke="#000" stroke-width="0.35"><path stroke-width="0.01" d="M0.382,0 L0.382,0.716 L0.322,0.716 C0.29,0.65 0.2,0.59 0.097,0.555 L0.097,0.47 C0.18,0.5 0.25,0.545 0.292,0.59 L0.292,0 Z" transform="translate(-36.71,0) scale(33,-33)"/><text x="-18.35" y="0" font-size="33" font-weight="normal">0</text></g>
<g transform="translate(111.6,1568.13) scale(1,1.02)" fill="#000" stroke="#000" stroke-width="0.35"><text x="0" y="0" font-size="25" font-weight="normal">0</text></g>
<g transform="translate(103.27,1636.3) scale(1,1.02)" fill="#000" stroke="#000" stroke-width="0.35"><path stroke-width="0.01" d="M0.382,0 L0.382,0.716 L0.322,0.716 C0.29,0.65 0.2,0.59 0.097,0.555 L0.097,0.47 C0.18,0.5 0.25,0.545 0.292,0.59 L0.292,0 Z" transform="translate(-36.71,0) scale(33,-33)"/><text x="-18.35" y="0" font-size="33" font-weight="normal">0</text></g>
<g transform="translate(103.27,1624.4) scale(1,1.02)" fill="#000" stroke="#000" stroke-width="0.35"><text x="0" y="0" font-size="25" font-weight="normal">-</text><path stroke-width="0.01" d="M0.382,0 L0.382,0.716 L0.322,0.716 C0.29,0.65 0.2,0.59 0.097,0.555 L0.097,0.47 C0.18,0.5 0.25,0.545 0.292,0.59 L0.292,0 Z" transform="translate(8.33,0) scale(25,-25)"/></g>
<line x1="187.8" y1="1622" x2="187.8" y2="1635.5" stroke="#1c1c1c" stroke-width="1.9"/>
<line x1="255.1" y1="1622" x2="255.1" y2="1635.5" stroke="#1c1c1c" stroke-width="1.9"/>
<line x1="322.7" y1="1622" x2="322.7" y2="1635.5" stroke="#1c1c1c" stroke-width="1.9"/>
<g transform="translate(32.3,1450.2) rotate(-90) scale(1,1.04)" fill="#000" stroke="#000" stroke-width="0.35"><text x="-108.49" y="0" font-size="32" font-weight="normal">IL-</text><path stroke-width="0.01" d="M0.382,0 L0.382,0.716 L0.322,0.716 C0.29,0.65 0.2,0.59 0.097,0.555 L0.097,0.47 C0.18,0.5 0.25,0.545 0.292,0.59 L0.292,0 Z" transform="translate(-71.14,0) scale(32,-32)"/><text x="-53.34" y="0" font-size="32" font-weight="normal">RA (pg/mL)</text></g>
<g transform="translate(199.35,1659.55) rotate(-45)" fill="#000" stroke="#000" stroke-width="0.35"><text x="-92.48" y="0" font-size="32" font-weight="normal">No PE</text></g>
<g transform="translate(270.75,1659.55) rotate(-45)" fill="#000" stroke="#000" stroke-width="0.35"><text x="-119.14" y="0" font-size="32" font-weight="normal">Prior PE</text></g>
<g transform="translate(339.35,1659.15) rotate(-45)" fill="#000" stroke="#000" stroke-width="0.35"><text x="-158.28" y="0" font-size="32" font-weight="normal">Current PE</text></g>
<circle cx="172" cy="1391.8" r="6.8" fill="#0077FF"/>
<circle cx="203.9" cy="1403.5" r="6.8" fill="#0077FF"/>
<circle cx="187.8" cy="1422.5" r="6.8" fill="#0077FF"/>
<circle cx="187.8" cy="1503" r="6.8" fill="#0077FF"/>
<circle cx="187.8" cy="1545.4" r="6.8" fill="#0077FF"/>
<circle cx="187.8" cy="1575.5" r="6.8" fill="#0077FF"/>
<circle cx="187.8" cy="1610.6" r="6.6" fill="none" stroke="#0077FF" stroke-width="3.1"/>
<circle cx="255.4" cy="1351.4" r="6.8" fill="#28CC41"/>
<circle cx="239.3" cy="1391.2" r="6.8" fill="#28CC41"/>
<circle cx="271.2" cy="1401.1" r="6.8" fill="#28CC41"/>
<circle cx="255.4" cy="1532.2" r="6.8" fill="#28CC41"/>
<circle cx="239.3" cy="1565.8" r="6.8" fill="#28CC41"/>
<circle cx="271.2" cy="1565.8" r="6.8" fill="#28CC41"/>
<circle cx="322.7" cy="1314.2" r="6.8" fill="#FF3B30"/>
<circle cx="306.6" cy="1341.4" r="6.8" fill="#FF3B30"/>
<circle cx="338.8" cy="1337.6" r="6.8" fill="#FF3B30"/>
<circle cx="338.8" cy="1352.6" r="6.8" fill="#FF3B30"/>
<circle cx="322.7" cy="1385.3" r="6.8" fill="#FF3B30"/>
<line x1="187.8" y1="1403.5" x2="187.8" y2="1574.6" stroke="#1c1c1c" stroke-width="1.9"/>
<line x1="176" y1="1403.5" x2="199.6" y2="1403.5" stroke="#1c1c1c" stroke-width="1.9"/>
<line x1="176" y1="1574.6" x2="199.6" y2="1574.6" stroke="#1c1c1c" stroke-width="1.9"/>
<line x1="255.1" y1="1374.2" x2="255.1" y2="1565.8" stroke="#1c1c1c" stroke-width="1.9"/>
<line x1="243.3" y1="1374.2" x2="266.9" y2="1374.2" stroke="#1c1c1c" stroke-width="1.9"/>
<line x1="243.3" y1="1565.8" x2="266.9" y2="1565.8" stroke="#1c1c1c" stroke-width="1.9"/>
<line x1="322.7" y1="1323.6" x2="322.7" y2="1363.7" stroke="#1c1c1c" stroke-width="1.9"/>
<line x1="310.9" y1="1323.6" x2="334.5" y2="1323.6" stroke="#1c1c1c" stroke-width="1.9"/>
<line x1="310.9" y1="1363.7" x2="334.5" y2="1363.7" stroke="#1c1c1c" stroke-width="1.9"/>
<line x1="165.3" y1="1502.4" x2="210.1" y2="1502.4" stroke="#1c1c1c" stroke-width="1.9"/>
<line x1="232.8" y1="1417.5" x2="277.4" y2="1417.5" stroke="#1c1c1c" stroke-width="1.9"/>
<line x1="300.8" y1="1341.4" x2="344.6" y2="1341.4" stroke="#1c1c1c" stroke-width="1.9"/>
<line x1="184.9" y1="1250.9" x2="323.3" y2="1250.9" stroke="#222" stroke-width="1.7"/>
<text x="242.86" y="1259.9" font-size="39" font-weight="bold">*</text>
<text x="260.01" y="1259.9" font-size="39" font-weight="bold">*</text>
<line x1="272.9" y1="1283.9" x2="330.6" y2="1283.9" stroke="#222" stroke-width="1.7"/>
<text x="292.86" y="1292.9" font-size="39" font-weight="bold">*</text>
<line x1="605.4" y1="1283.35" x2="605.4" y2="1621.85" stroke="#1c1c1c" stroke-width="1.9"/>
<line x1="591.9" y1="1620.9" x2="830.1" y2="1620.9" stroke="#1c1c1c" stroke-width="1.9"/>
<line x1="591.9" y1="1284.3" x2="605.4" y2="1284.3" stroke="#1c1c1c" stroke-width="1.9"/>
<g transform="translate(573.6,1298.6) scale(1,1.02)" fill="#000" stroke="#000" stroke-width="0.35"><path stroke-width="0.01" d="M0.382,0 L0.382,0.716 L0.322,0.716 C0.29,0.65 0.2,0.59 0.097,0.555 L0.097,0.47 C0.18,0.5 0.25,0.545 0.292,0.59 L0.292,0 Z" transform="translate(-36.71,0) scale(33,-33)"/><text x="-18.35" y="0" font-size="33" font-weight="normal">0</text></g>
<g transform="translate(573.6,1286.7) scale(1,1.02)" fill="#000" stroke="#000" stroke-width="0.35"><text x="0" y="0" font-size="25" font-weight="normal">2</text></g>
<line x1="591.9" y1="1368.45" x2="605.4" y2="1368.45" stroke="#1c1c1c" stroke-width="1.9"/>
<g transform="translate(573.6,1382.75) scale(1,1.02)" fill="#000" stroke="#000" stroke-width="0.35"><path stroke-width="0.01" d="M0.382,0 L0.382,0.716 L0.322,0.716 C0.29,0.65 0.2,0.59 0.097,0.555 L0.097,0.47 C0.18,0.5 0.25,0.545 0.292,0.59 L0.292,0 Z" transform="translate(-36.71,0) scale(33,-33)"/><text x="-18.35" y="0" font-size="33" font-weight="normal">0</text></g>
<g transform="translate(573.6,1370.85) scale(1,1.02)" fill="#000" stroke="#000" stroke-width="0.35"><path stroke-width="0.01" d="M0.382,0 L0.382,0.716 L0.322,0.716 C0.29,0.65 0.2,0.59 0.097,0.555 L0.097,0.47 C0.18,0.5 0.25,0.545 0.292,0.59 L0.292,0 Z" transform="translate(0,0) scale(25,-25)"/></g>
<line x1="591.9" y1="1452.6" x2="605.4" y2="1452.6" stroke="#1c1c1c" stroke-width="1.9"/>
<g transform="translate(573.6,1466.9) scale(1,1.02)" fill="#000" stroke="#000" stroke-width="0.35"><path stroke-width="0.01" d="M0.382,0 L0.382,0.716 L0.322,0.716 C0.29,0.65 0.2,0.59 0.097,0.555 L0.097,0.47 C0.18,0.5 0.25,0.545 0.292,0.59 L0.292,0 Z" transform="translate(-36.71,0) scale(33,-33)"/><text x="-18.35" y="0" font-size="33" font-weight="normal">0</text></g>
<g transform="translate(573.6,1455) scale(1,1.02)" fill="#000" stroke="#000" stroke-width="0.35"><text x="0" y="0" font-size="25" font-weight="normal">0</text></g>
<line x1="591.9" y1="1536.75" x2="605.4" y2="1536.75" stroke="#1c1c1c" stroke-width="1.9"/>
<g transform="translate(565.27,1551.05) scale(1,1.02)" fill="#000" stroke="#000" stroke-width="0.35"><path stroke-width="0.01" d="M0.382,0 L0.382,0.716 L0.322,0.716 C0.29,0.65 0.2,0.59 0.097,0.555 L0.097,0.47 C0.18,0.5 0.25,0.545 0.292,0.59 L0.292,0 Z" transform="translate(-36.71,0) scale(33,-33)"/><text x="-18.35" y="0" font-size="33" font-weight="normal">0</text></g>
<g transform="translate(565.27,1539.15) scale(1,1.02)" fill="#000" stroke="#000" stroke-width="0.35"><text x="0" y="0" font-size="25" font-weight="normal">-</text><path stroke-width="0.01" d="M0.382,0 L0.382,0.716 L0.322,0.716 C0.29,0.65 0.2,0.59 0.097,0.555 L0.097,0.47 C0.18,0.5 0.25,0.545 0.292,0.59 L0.292,0 Z" transform="translate(8.33,0) scale(25,-25)"/></g>
<g transform="translate(565.27,1635.2) scale(1,1.02)" fill="#000" stroke="#000" stroke-width="0.35"><path stroke-width="0.01" d="M0.382,0 L0.382,0.716 L0.322,0.716 C0.29,0.65 0.2,0.59 0.097,0.555 L0.097,0.47 C0.18,0.5 0.25,0.545 0.292,0.59 L0.292,0 Z" transform="translate(-36.71,0) scale(33,-33)"/><text x="-18.35" y="0" font-size="33" font-weight="normal">0</text></g>
<g transform="translate(565.27,1623.3) scale(1,1.02)" fill="#000" stroke="#000" stroke-width="0.35"><text x="0" y="0" font-size="25" font-weight="normal">-2</text></g>
<line x1="650.8" y1="1620.9" x2="650.8" y2="1634.4" stroke="#1c1c1c" stroke-width="1.9"/>
<line x1="718" y1="1620.9" x2="718" y2="1634.4" stroke="#1c1c1c" stroke-width="1.9"/>
<line x1="785.3" y1="1620.9" x2="785.3" y2="1634.4" stroke="#1c1c1c" stroke-width="1.9"/>
<g transform="translate(494.7,1450.5) rotate(-90) scale(1,1.04)" fill="#000" stroke="#000" stroke-width="0.35"><text x="-96.04" y="0" font-size="32" font-weight="normal">IL-</text><path stroke-width="0.01" d="M0.382,0 L0.382,0.716 L0.322,0.716 C0.29,0.65 0.2,0.59 0.097,0.555 L0.097,0.47 C0.18,0.5 0.25,0.545 0.292,0.59 L0.292,0 Z" transform="translate(-58.7,0) scale(32,-32)"/><text x="-40.9" y="0" font-size="32" font-weight="normal">0 (pg/mL)</text></g>
<g transform="translate(665.35,1659.55) rotate(-45)" fill="#000" stroke="#000" stroke-width="0.35"><text x="-92.48" y="0" font-size="32" font-weight="normal">No PE</text></g>
<g transform="translate(737.35,1659.55) rotate(-45)" fill="#000" stroke="#000" stroke-width="0.35"><text x="-119.14" y="0" font-size="32" font-weight="normal">Prior PE</text></g>
<g transform="translate(805.75,1659.15) rotate(-45)" fill="#000" stroke="#000" stroke-width="0.35"><text x="-158.28" y="0" font-size="32" font-weight="normal">Current PE</text></g>
<circle cx="635.7" cy="1568.6" r="6.6" fill="none" stroke="#0077FF" stroke-width="3.1"/>
<circle cx="641.8" cy="1567" r="6.6" fill="none" stroke="#0077FF" stroke-width="3.1"/>
<circle cx="647.9" cy="1568.6" r="6.6" fill="none" stroke="#0077FF" stroke-width="3.1"/>
<circle cx="654" cy="1567" r="6.6" fill="none" stroke="#0077FF" stroke-width="3.1"/>
<circle cx="660" cy="1568.6" r="6.6" fill="none" stroke="#0077FF" stroke-width="3.1"/>
<circle cx="666.1" cy="1568.6" r="6.6" fill="none" stroke="#0077FF" stroke-width="3.1"/>
<circle cx="655.6" cy="1580.7" r="6.6" fill="none" stroke="#0077FF" stroke-width="3.1"/>
<circle cx="718" cy="1401" r="6.8" fill="#28CC41"/>
<circle cx="718" cy="1452.2" r="6.8" fill="#28CC41"/>
<circle cx="702.4" cy="1569.1" r="6.6" fill="none" stroke="#28CC41" stroke-width="3.1"/>
<circle cx="712.7" cy="1566.9" r="6.6" fill="none" stroke="#28CC41" stroke-width="3.1"/>
<circle cx="722.9" cy="1569.1" r="6.6" fill="none" stroke="#28CC41" stroke-width="3.1"/>
<circle cx="734.2" cy="1566.9" r="6.6" fill="none" stroke="#28CC41" stroke-width="3.1"/>
<circle cx="785.6" cy="1312.7" r="6.8" fill="#FF3B30"/>
<circle cx="785.6" cy="1348.6" r="6.8" fill="#FF3B30"/>
<circle cx="785.6" cy="1382.3" r="6.8" fill="#FF3B30"/>
<circle cx="785.6" cy="1423.3" r="6.8" fill="#FF3B30"/>
<circle cx="785.6" cy="1437.3" r="6.8" fill="#FF3B30"/>
<line x1="650.8" y1="1568" x2="650.8" y2="1569.2" stroke="#1c1c1c" stroke-width="1.9"/>
<line x1="639" y1="1568" x2="662.6" y2="1568" stroke="#1c1c1c" stroke-width="1.9"/>
<line x1="639" y1="1569.2" x2="662.6" y2="1569.2" stroke="#1c1c1c" stroke-width="1.9"/>
<line x1="718.1" y1="1431.2" x2="718.1" y2="1567.6" stroke="#1c1c1c" stroke-width="1.9"/>
<line x1="706.3" y1="1431.2" x2="729.9" y2="1431.2" stroke="#1c1c1c" stroke-width="1.9"/>
<line x1="706.3" y1="1567.6" x2="729.9" y2="1567.6" stroke="#1c1c1c" stroke-width="1.9"/>
<line x1="785.6" y1="1326.7" x2="785.6" y2="1429.1" stroke="#1c1c1c" stroke-width="1.9"/>
<line x1="773.8" y1="1326.7" x2="797.4" y2="1326.7" stroke="#1c1c1c" stroke-width="1.9"/>
<line x1="773.8" y1="1429.1" x2="797.4" y2="1429.1" stroke="#1c1c1c" stroke-width="1.9"/>
<line x1="629.2" y1="1568.6" x2="672.8" y2="1568.6" stroke="#1c1c1c" stroke-width="1.9"/>
<line x1="696" y1="1566.9" x2="739.6" y2="1566.9" stroke="#1c1c1c" stroke-width="1.9"/>
<line x1="763.3" y1="1382.3" x2="808.2" y2="1382.3" stroke="#1c1c1c" stroke-width="1.9"/>
<line x1="1065.9" y1="1283.35" x2="1065.9" y2="1622.25" stroke="#1c1c1c" stroke-width="1.9"/>
<line x1="1052.4" y1="1621.3" x2="1290.5" y2="1621.3" stroke="#1c1c1c" stroke-width="1.9"/>
<line x1="1052.4" y1="1284.3" x2="1065.9" y2="1284.3" stroke="#1c1c1c" stroke-width="1.9"/>
<g transform="translate(1034.1,1298.6) scale(1,1.02)" fill="#000" stroke="#000" stroke-width="0.35"><path stroke-width="0.01" d="M0.382,0 L0.382,0.716 L0.322,0.716 C0.29,0.65 0.2,0.59 0.097,0.555 L0.097,0.47 C0.18,0.5 0.25,0.545 0.292,0.59 L0.292,0 Z" transform="translate(-36.71,0) scale(33,-33)"/><text x="-18.35" y="0" font-size="33" font-weight="normal">0</text></g>
<g transform="translate(1034.1,1286.7) scale(1,1.02)" fill="#000" stroke="#000" stroke-width="0.35"><text x="0" y="0" font-size="25" font-weight="normal">4</text></g>
<line x1="1052.4" y1="1368.55" x2="1065.9" y2="1368.55" stroke="#1c1c1c" stroke-width="1.9"/>
<g transform="translate(1034.1,1382.85) scale(1,1.02)" fill="#000" stroke="#000" stroke-width="0.35"><path stroke-width="0.01" d="M0.382,0 L0.382,0.716 L0.322,0.716 C0.29,0.65 0.2,0.59 0.097,0.555 L0.097,0.47 C0.18,0.5 0.25,0.545 0.292,0.59 L0.292,0 Z" transform="translate(-36.71,0) scale(33,-33)"/><text x="-18.35" y="0" font-size="33" font-weight="normal">0</text></g>
<g transform="translate(1034.1,1370.95) scale(1,1.02)" fill="#000" stroke="#000" stroke-width="0.35"><text x="0" y="0" font-size="25" font-weight="normal">3</text></g>
<line x1="1052.4" y1="1452.8" x2="1065.9" y2="1452.8" stroke="#1c1c1c" stroke-width="1.9"/>
<g transform="translate(1034.1,1467.1) scale(1,1.02)" fill="#000" stroke="#000" stroke-width="0.35"><path stroke-width="0.01" d="M0.382,0 L0.382,0.716 L0.322,0.716 C0.29,0.65 0.2,0.59 0.097,0.555 L0.097,0.47 C0.18,0.5 0.25,0.545 0.292,0.59 L0.292,0 Z" transform="translate(-36.71,0) scale(33,-33)"/><text x="-18.35" y="0" font-size="33" font-weight="normal">0</text></g>
<g transform="translate(1034.1,1455.2) scale(1,1.02)" fill="#000" stroke="#000" stroke-width="0.35"><text x="0" y="0" font-size="25" font-weight="normal">2</text></g>
<line x1="1052.4" y1="1537.05" x2="1065.9" y2="1537.05" stroke="#1c1c1c" stroke-width="1.9"/>
<g transform="translate(1034.1,1551.35) scale(1,1.02)" fill="#000" stroke="#000" stroke-width="0.35"><path stroke-width="0.01" d="M0.382,0 L0.382,0.716 L0.322,0.716 C0.29,0.65 0.2,0.59 0.097,0.555 L0.097,0.47 C0.18,0.5 0.25,0.545 0.292,0.59 L0.292,0 Z" transform="translate(-36.71,0) scale(33,-33)"/><text x="-18.35" y="0" font-size="33" font-weight="normal">0</text></g>
<g transform="translate(1034.1,1539.45) scale(1,1.02)" fill="#000" stroke="#000" stroke-width="0.35"><path stroke-width="0.01" d="M0.382,0 L0.382,0.716 L0.322,0.716 C0.29,0.65 0.2,0.59 0.097,0.555 L0.097,0.47 C0.18,0.5 0.25,0.545 0.292,0.59 L0.292,0 Z" transform="translate(0,0) scale(25,-25)"/></g>
<g transform="translate(1034.1,1635.6) scale(1,1.02)" fill="#000" stroke="#000" stroke-width="0.35"><path stroke-width="0.01" d="M0.382,0 L0.382,0.716 L0.322,0.716 C0.29,0.65 0.2,0.59 0.097,0.555 L0.097,0.47 C0.18,0.5 0.25,0.545 0.292,0.59 L0.292,0 Z" transform="translate(-36.71,0) scale(33,-33)"/><text x="-18.35" y="0" font-size="33" font-weight="normal">0</text></g>
<g transform="translate(1034.1,1623.7) scale(1,1.02)" fill="#000" stroke="#000" stroke-width="0.35"><text x="0" y="0" font-size="25" font-weight="normal">0</text></g>
<line x1="1111.4" y1="1621.3" x2="1111.4" y2="1634.8" stroke="#1c1c1c" stroke-width="1.9"/>
<line x1="1178.2" y1="1621.3" x2="1178.2" y2="1634.8" stroke="#1c1c1c" stroke-width="1.9"/>
<line x1="1245.9" y1="1621.3" x2="1245.9" y2="1634.8" stroke="#1c1c1c" stroke-width="1.9"/>
<g transform="translate(960.7,1453.4) rotate(-90) scale(1,1.04)" fill="#000" stroke="#000" stroke-width="0.35"><text x="-128.91" y="0" font-size="32" font-weight="normal">TNFSF</text><path stroke-width="0.01" d="M0.382,0 L0.382,0.716 L0.322,0.716 C0.29,0.65 0.2,0.59 0.097,0.555 L0.097,0.47 C0.18,0.5 0.25,0.545 0.292,0.59 L0.292,0 Z" transform="translate(-25.82,0) scale(32,-32)"/><text x="-8.02" y="0" font-size="32" font-weight="normal">0 (pg/mL)</text></g>
<g transform="translate(1128.75,1659.55) rotate(-45)" fill="#000" stroke="#000" stroke-width="0.35"><text x="-92.48" y="0" font-size="32" font-weight="normal">No PE</text></g>
<g transform="translate(1200.35,1659.55) rotate(-45)" fill="#000" stroke="#000" stroke-width="0.35"><text x="-119.14" y="0" font-size="32" font-weight="normal">Prior PE</text></g>
<g transform="translate(1269.15,1659.15) rotate(-45)" fill="#000" stroke="#000" stroke-width="0.35"><text x="-158.28" y="0" font-size="32" font-weight="normal">Current PE</text></g>
<circle cx="1111.4" cy="1423.2" r="6.8" fill="#0077FF"/>
<circle cx="1095.1" cy="1454.4" r="6.8" fill="#0077FF"/>
<circle cx="1111.4" cy="1455.3" r="6.8" fill="#0077FF"/>
<circle cx="1127.2" cy="1463.2" r="6.8" fill="#0077FF"/>
<circle cx="1111.4" cy="1471.1" r="6.8" fill="#0077FF"/>
<circle cx="1111.4" cy="1508.4" r="6.8" fill="#0077FF"/>
<circle cx="1111.4" cy="1564.4" r="6.6" fill="none" stroke="#0077FF" stroke-width="3.1"/>
<circle cx="1178.2" cy="1371.9" r="6.8" fill="#28CC41"/>
<circle cx="1178.2" cy="1385.9" r="6.8" fill="#28CC41"/>
<circle cx="1178.2" cy="1423.8" r="6.8" fill="#28CC41"/>
<circle cx="1162.2" cy="1463.2" r="6.8" fill="#28CC41"/>
<circle cx="1194.3" cy="1465.2" r="6.8" fill="#28CC41"/>
<circle cx="1162.2" cy="1478.7" r="6.8" fill="#28CC41"/>
<circle cx="1245.9" cy="1324.6" r="6.8" fill="#FF3B30"/>
<circle cx="1230.2" cy="1371.9" r="6.8" fill="#FF3B30"/>
<circle cx="1262" cy="1367.8" r="6.8" fill="#FF3B30"/>
<circle cx="1230.2" cy="1389.4" r="6.8" fill="#FF3B30"/>
<circle cx="1262" cy="1383.6" r="6.8" fill="#FF3B30"/>
<line x1="1111.4" y1="1454.4" x2="1111.4" y2="1507.8" stroke="#1c1c1c" stroke-width="1.9"/>
<line x1="1099.6" y1="1454.4" x2="1123.2" y2="1454.4" stroke="#1c1c1c" stroke-width="1.9"/>
<line x1="1099.6" y1="1507.8" x2="1123.2" y2="1507.8" stroke="#1c1c1c" stroke-width="1.9"/>
<line x1="1178.2" y1="1382.4" x2="1178.2" y2="1468.2" stroke="#1c1c1c" stroke-width="1.9"/>
<line x1="1166.4" y1="1382.4" x2="1190" y2="1382.4" stroke="#1c1c1c" stroke-width="1.9"/>
<line x1="1166.4" y1="1468.2" x2="1190" y2="1468.2" stroke="#1c1c1c" stroke-width="1.9"/>
<line x1="1245.9" y1="1339.8" x2="1245.9" y2="1386.5" stroke="#1c1c1c" stroke-width="1.9"/>
<line x1="1234.1" y1="1339.8" x2="1257.7" y2="1339.8" stroke="#1c1c1c" stroke-width="1.9"/>
<line x1="1234.1" y1="1386.5" x2="1257.7" y2="1386.5" stroke="#1c1c1c" stroke-width="1.9"/>
<line x1="1089.2" y1="1463.2" x2="1133.9" y2="1463.2" stroke="#1c1c1c" stroke-width="1.9"/>
<line x1="1155.7" y1="1438.4" x2="1200.7" y2="1438.4" stroke="#1c1c1c" stroke-width="1.9"/>
<line x1="1223.4" y1="1372.8" x2="1268.7" y2="1372.8" stroke="#1c1c1c" stroke-width="1.9"/>
<line x1="1115.5" y1="1284" x2="1254.1" y2="1284" stroke="#222" stroke-width="1.7"/>
<text x="1172.41" y="1292.7" font-size="39" font-weight="bold">*</text>
<text x="1191.01" y="1292.7" font-size="39" font-weight="bold">*</text>
<text transform="translate(618.79,31.2) scale(1,1.04)" x="0" y="0" font-size="32" font-weight="bold">Macrophage</text>
<rect x="619.2" y="33.7" width="189.2" height="3.6" fill="#000"/>
<text transform="translate(575.93,1224) scale(1,1.04)" x="0" y="0" font-size="32" font-weight="bold">Anti-inflammatory</text>
<rect x="576" y="1227.2" width="275.4" height="3.6" fill="#000"/>
</g>
</svg>
</body></html>
